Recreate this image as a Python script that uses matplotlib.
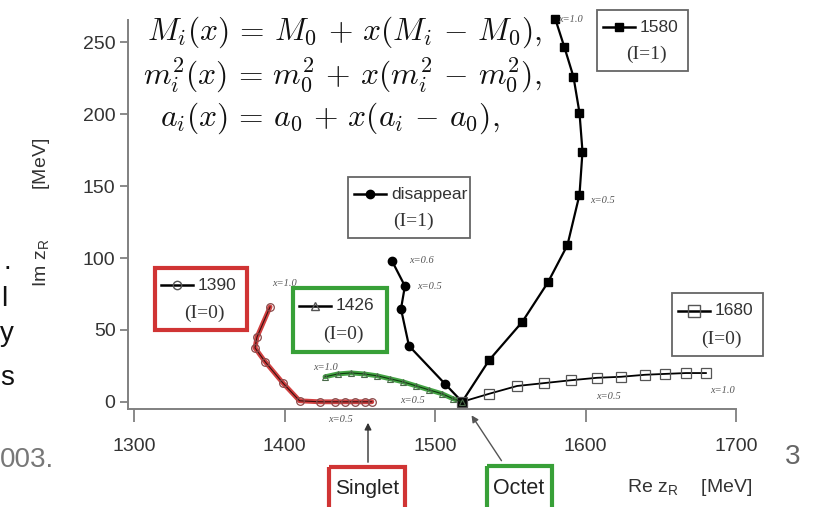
import matplotlib.pyplot as plt
from matplotlib.patches import Rectangle

plt.rcParams['mathtext.fontset'] = 'cm'
SANS = 'Liberation Sans'
SERIF = 'Liberation Serif'

# pole trajectories (Re z_R, Im z_R) in MeV, x running 0 -> 1
re_1580 = [1518, 1536, 1558, 1575, 1588, 1596, 1598, 1596, 1592, 1586, 1580]
im_1580 = [0, 29, 55.6, 83, 109, 144, 174, 201, 226, 246.5, 266]

re_dis = [1518, 1506.6, 1482.7, 1477.4, 1480, 1471.4]
im_dis = [0, 12.5, 38.9, 64.6, 80.5, 98]

re_1680 = [1518, 1536, 1554.5, 1572.4, 1590.4, 1607.6, 1623.6, 1639.5, 1652.8, 1666.8, 1680]
im_1680 = [0, 5.6, 11, 13, 15, 16.7, 17.4, 18.8, 19.4, 20, 20]

re_1390 = [1458, 1453.5, 1447, 1440, 1433.6, 1423.6, 1410, 1399, 1387, 1380.4, 1381.7, 1390.4]
im_1390 = [0, 0, 0, 0, 0, 0, 0.7, 13, 28, 37.5, 45, 66]

re_1426 = [1518, 1512, 1504.7, 1496, 1487.4, 1478.7, 1470.1, 1461.5, 1452.8, 1444.2, 1435.5, 1426.9]
im_1426 = [0, 2.1, 5.6, 8.3, 11.1, 13.9, 16, 18.1, 19.4, 20.1, 19.4, 17.4]

x_ticks = [1300, 1400, 1500, 1600, 1700]
y_ticks = [0, 50, 100, 150, 200, 250]

W, H = 821, 507
fig = plt.figure(figsize=(W / 100, H / 100), dpi=100)

ax = fig.add_axes([128 / W, 1 - 409 / H, (736 - 128) / W, (409 - 20) / H])
ax.set_xlim(1296, 1700)
ax.set_ylim(-5, 265.5)
for s in ['top', 'right']:
    ax.spines[s].set_visible(False)
for s in ['left', 'bottom']:
    ax.spines[s].set_color('#808080')
    ax.spines[s].set_linewidth(1.4)
ax.set_xticks(x_ticks)
ax.set_yticks(y_ticks)
ax.tick_params(axis='x', direction='out', length=9, width=1.3, color='#808080',
               pad=12, labelsize=14, labelcolor='#333333')
ax.tick_params(axis='y', direction='out', length=6, width=1.3, color='#808080',
               pad=3, labelsize=14, labelcolor='#333333')
for lab in ax.get_xticklabels() + ax.get_yticklabels():
    lab.set_family(SANS)

line_kw = dict(color='black', lw=1.6, clip_on=False, zorder=4)
ax.plot(re_1580, im_1580, marker='s', ms=6, mfc='black', mec='black', **line_kw)
ax.plot(re_dis, im_dis, marker='o', ms=6, mfc='black', mec='black', **line_kw)
ax.plot(re_1680, im_1680, marker='s', ms=7, mfc='none', mec='#555555', mew=0.9,
        color='black', lw=1.3, clip_on=False, zorder=4)

# I=0 singlet and octet poles, highlighted
ax.plot(re_1390, im_1390, color='#cc2b2b', lw=3.5, alpha=0.9, solid_capstyle='round',
        clip_on=False, zorder=3)
ax.plot(re_1390, im_1390, marker='o', ms=5.5, mfc='none', mec='#8a4a4a', mew=0.9,
        color='#3a1010', lw=0.8, clip_on=False, zorder=4)
ax.plot(re_1426, im_1426, color='#2f9a2f', lw=3.5, alpha=0.9, solid_capstyle='round',
        clip_on=False, zorder=3)
ax.plot(re_1426, im_1426, marker='^', ms=5, mfc='none', mec='#4a6a4a', mew=0.8,
        color='#103a10', lw=0.8, clip_on=False, zorder=4)

# x labels along the trajectories
xl = dict(family=SERIF, fontsize=7.5, color='#555555', style='italic', zorder=5)
ax.text(1582, 266, 'x=1.0', va='center', ha='left', **xl)
ax.text(1603, 140, 'x=0.5', va='center', ha='left', **xl)
ax.text(1483, 98, 'x=0.6', va='center', ha='left', **xl)
ax.text(1488, 80, 'x=0.5', va='center', ha='left', **xl)
ax.text(1392, 82, 'x=1.0', va='center', ha='left', **xl)
ax.text(1419, 24, 'x=1.0', va='center', ha='left', **xl)
ax.text(1429, -12, 'x=0.5', va='center', ha='left', **xl)
ax.text(1477, 1, 'x=0.5', va='center', ha='left', **xl)
ax.text(1607, 4, 'x=0.5', va='center', ha='left', **xl)
ax.text(1683, 8, 'x=1.0', va='center', ha='left', **xl)

# overlay in pixel coordinates for boxes and slide text
ov = fig.add_axes([0, 0, 1, 1], facecolor='none', zorder=10)
ov.set_xlim(0, W)
ov.set_ylim(H, 0)
ov.axis('off')


def legend_box(x0, y0, x1, y1, label, iso, marker, filled, ec, lw, ms=6):
    ov.add_patch(Rectangle((x0, y0), x1 - x0, y1 - y0, fill=False, ec=ec, lw=lw))
    ly = y0 + 0.28 * (y1 - y0)
    ov.plot([x0 + 6, x0 + 38], [ly, ly], color='black', lw=1.8)
    ov.plot([x0 + 22], [ly], ls='none', marker=marker, ms=ms,
            mfc='black' if filled else 'none', mec='black' if filled else '#555555')
    ov.text(x0 + 43, ly, label, family=SANS, fontsize=12.5, color='#333333',
            va='center', ha='left')
    ov.text(x0 + 0.54 * (x1 - x0), y0 + 0.73 * (y1 - y0), iso, family=SERIF,
            fontsize=14, color='#333333', va='center', ha='center')


legend_box(597, 10, 688, 71, '1580', '(I=1)', 's', True, '#666666', 1.3)
legend_box(348, 177, 470, 238, 'disappear', '(I=1)', 'o', True, '#666666', 1.3)
legend_box(155, 268, 247, 330, '1390', '(I=0)', 'o', False, '#d03434', 3)
legend_box(293, 288, 387, 352, '1426', '(I=0)', '^', False, '#38a038', 3)
legend_box(672, 293, 763, 356, '1680', '(I=0)', 's', False, '#666666', 1.3, ms=8)

# singlet / octet tags
ov.add_patch(Rectangle((329, 467), 76, 45, fill=False, ec='#d03434', lw=3, clip_on=False))
ov.text(367, 488, 'Singlet', family=SANS, fontsize=15, color='#222222',
        va='center', ha='center')
ov.annotate('', xy=(368, 420), xytext=(368, 465),
            arrowprops=dict(arrowstyle='-|>', color='#333333', lw=1, mutation_scale=10))
ov.add_patch(Rectangle((487, 466), 65, 45, fill=False, ec='#38a038', lw=3, clip_on=False))
ov.text(519, 488, 'Octet', family=SANS, fontsize=15.5, color='#222222',
        va='center', ha='center')
ov.annotate('', xy=(470, 413), xytext=(503, 463),
            arrowprops=dict(arrowstyle='-|>', color='#555555', lw=1, mutation_scale=10))

# axis titles
ov.text(690, 487, r'Re z$_\mathregular{R}$    [MeV]', family=SANS, fontsize=14,
        color='#333333', va='center', ha='center')
ov.text(42, 212, r'Im z$_\mathregular{R}$         [MeV]', family=SANS, fontsize=14,
        color='#333333', va='center', ha='center', rotation=90)

# interpolation formulas
eq = dict(fontsize=22.7, color='#111111', va='center', ha='left')
ov.text(147, 32, r'$M_i(x) \,=\, M_0 \,+\, x(M_i \,-\, M_0),$', **eq)
ov.text(143, 75, r'$m_i^2(x) \,=\, m_0^2 \,+\, x(m_i^2 \,-\, m_0^2),$', **eq)
ov.text(160, 118, r'$a_i(x) \,=\, a_0 \,+\, x(a_i \,-\, a_0),$', **eq)

# slide text cut off at the left edge, page number
sl = dict(family=SANS, fontsize=20, color='#111111', va='center', ha='left')
ov.text(4, 262, '.', **sl)
ov.text(1, 299, 'l', **sl)
ov.text(0, 334, 'y', **sl)
ov.text(0, 378, 's', **sl)
ov.text(0, 460, '003.', family=SANS, fontsize=20, color='#777777', va='center', ha='left')
ov.text(793, 457, '3', family=SANS, fontsize=20, color='#666666', va='center', ha='center')

fig.savefig('out.png', dpi=100)
